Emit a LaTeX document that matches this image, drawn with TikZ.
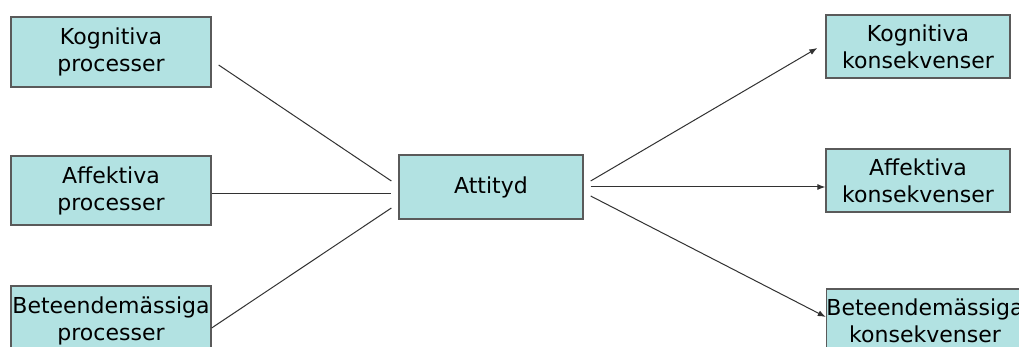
\documentclass[tikz,border=0pt]{standalone}
\usepackage{fontspec}
\setmainfont{DejaVu Sans}
\usetikzlibrary{arrows.meta}
\definecolor{boxfill}{RGB}{178,226,226}
\definecolor{boxline}{RGB}{90,90,90}
\definecolor{connline}{RGB}{50,50,50}
\tikzset{
  box/.style={draw=boxline, line width=1.3pt, fill=boxfill, align=center, inner sep=0pt,
    font=\fontsize{22}{27}\selectfont},
  conn/.style={draw=connline, line width=1pt},
  arr/.style={conn, -{Latex[length=8pt,width=6pt]}}
}
\begin{document}
\begin{tikzpicture}[x=1pt, y=-1pt]
\clip (0,0) rectangle (1019,347);
\fill[white] (0,0) rectangle (1019,347);
% left: processes
\node[box, minimum width=200pt, minimum height=70pt] (kp) at (111,52) {Kognitiva\\processer};
\node[box, minimum width=200pt, minimum height=69pt] (ap) at (111,190.5) {Affektiva\\processer};
\node[box, minimum width=200pt, minimum height=70pt] (bp) at (111,321) {Beteendemässiga\\processer};
% middle
\node[box, minimum width=184pt, minimum height=64pt] (att) at (491,187) {Attityd};
% right: consequences
\node[box, minimum width=184pt, minimum height=63pt] (kk) at (918,46.5) {Kognitiva\\konsekvenser};
\node[box, minimum width=184pt, minimum height=63pt] (ak) at (918,180.5) {Affektiva\\konsekvenser};
\node[box, minimum width=184pt, minimum height=63pt] (bk) at (925,320.5) {Beteendemässiga\\konsekvenser};
% connectors
\draw[conn] ([shift={(7,13)}]kp.east) -- ([shift={(-7,-6)}]att.west);
\draw[conn] ([shift={(0,3.5)}]ap.east) -- ([shift={(-7,7)}]att.west);
\draw[conn] ([shift={(0,7)}]bp.east) -- ([shift={(-7,21)}]att.west);
\draw[arr] ([shift={(7,-6)}]att.east) -- ([shift={(-8,1.5)}]kk.west);
\draw[arr] ([shift={(7,0)}]att.east) -- ([shift={(0,6.5)}]ak.west);
\draw[arr] ([shift={(7,9)}]att.east) -- ([shift={(0,-3.5)}]bk.west);
\end{tikzpicture}
\end{document}
